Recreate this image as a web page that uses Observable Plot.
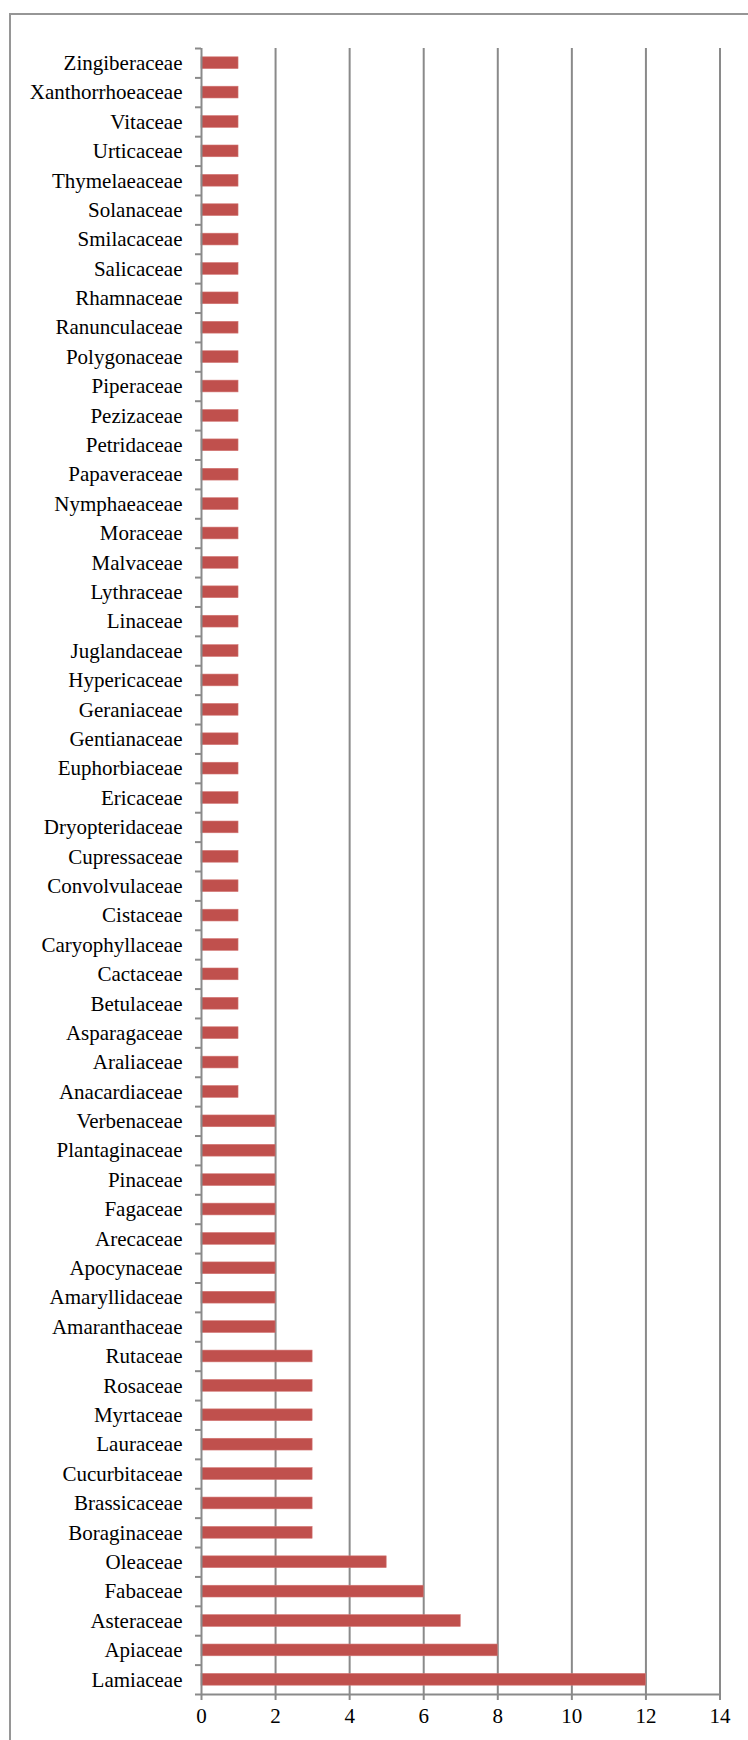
<!DOCTYPE html>
<html>
<head>
<meta charset="utf-8">
<script src="https://cdn.jsdelivr.net/npm/d3@7"></script>
<script src="https://cdn.jsdelivr.net/npm/@observablehq/plot@0.6"></script>
<style>
  html, body { margin: 0; padding: 0; background: #fff; }
  #wrap { position: relative; width: 748px; height: 1740px; overflow: hidden; }
  #box { position: absolute; left: 9px; top: 13px; width: 800px; height: 1800px;
         border-left: 2px solid #969696; border-top: 2px solid #969696; box-sizing: border-box; }
  #chart { position: absolute; left: 0; top: 0; }
</style>
</head>
<body>
<div id="wrap"><div id="box"></div><div id="chart"></div></div>
<script>
// Plant families, listed top to bottom as drawn
const families = [
  "Zingiberaceae", "Xanthorrhoeaceae", "Vitaceae", "Urticaceae", "Thymelaeaceae",
  "Solanaceae", "Smilacaceae", "Salicaceae", "Rhamnaceae", "Ranunculaceae",
  "Polygonaceae", "Piperaceae", "Pezizaceae", "Petridaceae", "Papaveraceae",
  "Nymphaeaceae", "Moraceae", "Malvaceae", "Lythraceae", "Linaceae",
  "Juglandaceae", "Hypericaceae", "Geraniaceae", "Gentianaceae", "Euphorbiaceae",
  "Ericaceae", "Dryopteridaceae", "Cupressaceae", "Convolvulaceae", "Cistaceae",
  "Caryophyllaceae", "Cactaceae", "Betulaceae", "Asparagaceae", "Araliaceae",
  "Anacardiaceae", "Verbenaceae", "Plantaginaceae", "Pinaceae", "Fagaceae",
  "Arecaceae", "Apocynaceae", "Amaryllidaceae", "Amaranthaceae", "Rutaceae",
  "Rosaceae", "Myrtaceae", "Lauraceae", "Cucurbitaceae", "Brassicaceae",
  "Boraginaceae", "Oleaceae", "Fabaceae", "Asteraceae", "Apiaceae", "Lamiaceae"
];

// Count per family, same order
const counts = [
  1, 1, 1, 1, 1,
  1, 1, 1, 1, 1,
  1, 1, 1, 1, 1,
  1, 1, 1, 1, 1,
  1, 1, 1, 1, 1,
  1, 1, 1, 1, 1,
  1, 1, 1, 1, 1,
  1, 2, 2, 2, 2,
  2, 2, 2, 2, 3,
  3, 3, 3, 3, 3,
  3, 5, 6, 7, 8, 12
];

// x-axis tick values
const xTicks = [0, 2, 4, 6, 8, 10, 12, 14];

const rows = families.map((family, i) => ({family, count: counts[i]}));

const W = 748, H = 1740;
const mTop = 48, mBottom = 46, mLeft = 201, mRight = 28.5;
const step = (H - mTop - mBottom) / families.length;
const grey = "#8a8a8a";
const font = "Liberation Serif, Times New Roman, serif";

const chart = Plot.plot({
  width: W,
  height: H,
  marginTop: mTop,
  marginBottom: mBottom,
  marginLeft: mLeft,
  marginRight: mRight,
  style: {fontFamily: font, fontSize: "21px", color: "#000", background: "transparent"},
  x: {domain: [0, 14], ticks: xTicks},
  y: {domain: families, paddingInner: 0.6, paddingOuter: 0.3, round: false},
  marks: [
    Plot.gridX(xTicks.slice(1), {stroke: grey, strokeOpacity: 1, strokeWidth: 2}),
    Plot.barX(rows, {y: "family", x: "count", fill: "#c0504d", stroke: "#d27572", strokeWidth: 0.6}),
    // value axis line and category axis line
    Plot.ruleX([0], {stroke: grey, strokeWidth: 2}),
    Plot.ruleY([families[families.length - 1]], {x1: 0, x2: 14, dy: step / 2, stroke: grey, strokeWidth: 2}),
    // category labels
    Plot.axisY({tickSize: 0, tickPadding: 19, label: null, fontSize: 21}),
    // tick marks between categories
    Plot.axisY({tickSize: 6, text: null, label: null, dy: step / 2, stroke: grey, strokeWidth: 2}),
    Plot.axisY({ticks: [families[0]], tickSize: 6, text: null, label: null, dy: -step / 2, stroke: grey, strokeWidth: 2}),
    // value axis
    Plot.axisX({ticks: xTicks, tickSize: 6, tickPadding: 8, label: null, stroke: grey, strokeWidth: 2, fontSize: 21})
  ]
});
document.getElementById("chart").appendChild(chart);
</script>
</body>
</html>
